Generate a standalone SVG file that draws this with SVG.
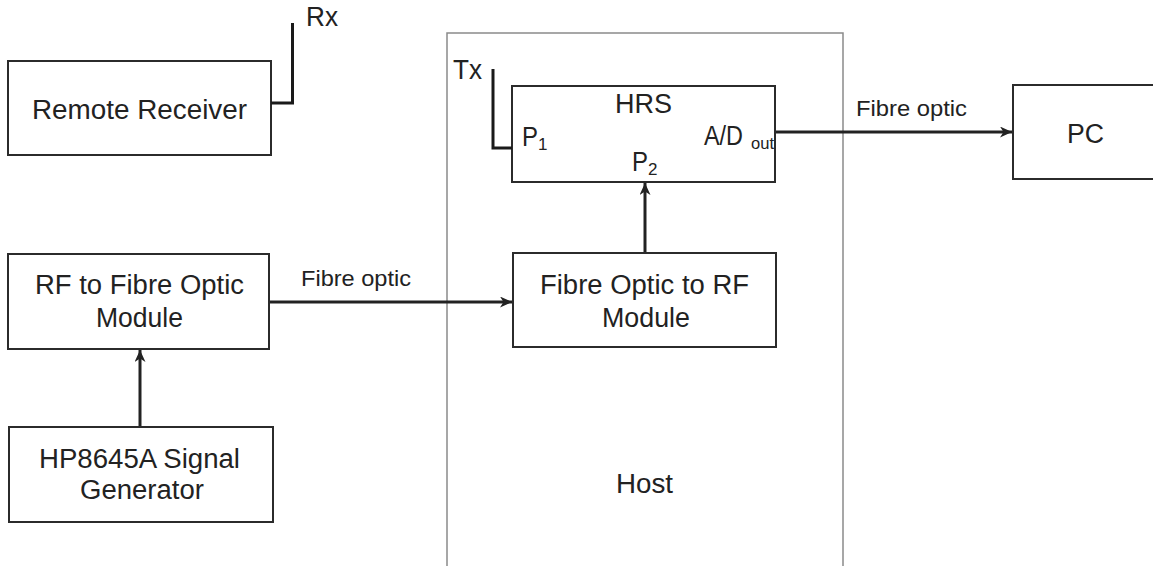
<svg xmlns="http://www.w3.org/2000/svg" width="1153" height="566" viewBox="0 0 1153 566">
<style>
  .box { fill: #fff; stroke: #2b2b2b; stroke-width: 2; }
  .host { fill: none; stroke: #8a8a8a; stroke-width: 1.5; }
  .t { font-family: "Liberation Sans", Arial, sans-serif; font-size: 27px; fill: #222; }
  .lbl { font-family: "Liberation Sans", Arial, sans-serif; font-size: 22px; fill: #222; }
  .sub { font-family: "Liberation Sans", Arial, sans-serif; font-size: 17px; fill: #222; }
  .conn { fill: none; stroke: #222; stroke-width: 3; }
  .ant { fill: none; stroke: #1a1a1a; stroke-width: 3; }
</style>
<defs>
  <marker id="arr" markerWidth="13" markerHeight="11" refX="12" refY="5.5" orient="auto" markerUnits="userSpaceOnUse">
    <path d="M0,0 L12,5.5 L0,11 L3.5,5.5 Z" fill="#222"/>
  </marker>
</defs>
<rect width="1153" height="566" fill="#fff"/>

<g id="host">
  <rect class="host" x="447" y="33" width="396" height="600"/>
  <text class="t" x="644.5" y="493" text-anchor="middle" textLength="57" lengthAdjust="spacingAndGlyphs">Host</text>
</g>

<g id="remote-receiver">
  <rect class="box" x="8" y="61" width="263" height="94"/>
  <text class="t" x="139.5" y="119" text-anchor="middle" textLength="215" lengthAdjust="spacingAndGlyphs">Remote Receiver</text>
  <polyline class="ant" points="271,103 292.5,103 292.5,23"/>
  <text class="t" x="306" y="26" textLength="32" lengthAdjust="spacingAndGlyphs">Rx</text>
</g>

<g id="hrs">
  <rect class="box" x="512" y="86" width="263" height="96"/>
  <text class="t" x="643.5" y="113" text-anchor="middle" textLength="57" lengthAdjust="spacingAndGlyphs">HRS</text>
  <text class="t" x="522" y="146" textLength="16" lengthAdjust="spacingAndGlyphs">P</text>
  <text class="sub" x="538" y="150">1</text>
  <text class="t" x="704" y="145" textLength="39" lengthAdjust="spacingAndGlyphs">A/D</text>
  <text class="sub" x="751" y="149" textLength="23" lengthAdjust="spacingAndGlyphs">out</text>
  <text class="t" x="632" y="171" textLength="16" lengthAdjust="spacingAndGlyphs">P</text>
  <text class="sub" x="648" y="175">2</text>
  <polyline class="ant" points="512,148 493,148 493,69"/>
  <text class="t" x="453" y="79" textLength="29" lengthAdjust="spacingAndGlyphs">Tx</text>
</g>

<g id="pc">
  <rect class="box" x="1013" y="85" width="150" height="94"/>
  <text class="t" x="1085.5" y="143" text-anchor="middle" textLength="37" lengthAdjust="spacingAndGlyphs">PC</text>
</g>

<g id="rf-to-fibre">
  <rect class="box" x="8" y="254" width="261" height="95"/>
  <text class="t" x="139.5" y="294" text-anchor="middle" textLength="209" lengthAdjust="spacingAndGlyphs">RF to Fibre Optic</text>
  <text class="t" x="139.5" y="327" text-anchor="middle" textLength="87" lengthAdjust="spacingAndGlyphs">Module</text>
</g>

<g id="fibre-to-rf">
  <rect class="box" x="513" y="253" width="263" height="94"/>
  <text class="t" x="644.5" y="294" text-anchor="middle" textLength="209" lengthAdjust="spacingAndGlyphs">Fibre Optic to RF</text>
  <text class="t" x="646" y="327" text-anchor="middle" textLength="88" lengthAdjust="spacingAndGlyphs">Module</text>
</g>

<g id="signal-generator">
  <rect class="box" x="9" y="427" width="264" height="95"/>
  <text class="t" x="139.5" y="468" text-anchor="middle" textLength="201" lengthAdjust="spacingAndGlyphs">HP8645A Signal</text>
  <text class="t" x="142" y="499" text-anchor="middle" textLength="124" lengthAdjust="spacingAndGlyphs">Generator</text>
</g>

<g id="connectors">
  <line class="conn" x1="776" y1="132" x2="1012" y2="132" marker-end="url(#arr)"/>
  <text class="lbl" x="856" y="116" textLength="111" lengthAdjust="spacingAndGlyphs">Fibre optic</text>
  <line class="conn" x1="270" y1="302" x2="512" y2="302" marker-end="url(#arr)"/>
  <text class="lbl" x="301" y="286" textLength="110" lengthAdjust="spacingAndGlyphs">Fibre optic</text>
  <line class="conn" x1="645" y1="252" x2="645" y2="183" marker-end="url(#arr)"/>
  <line class="conn" x1="140" y1="426" x2="140" y2="350" marker-end="url(#arr)"/>
</g>
</svg>
